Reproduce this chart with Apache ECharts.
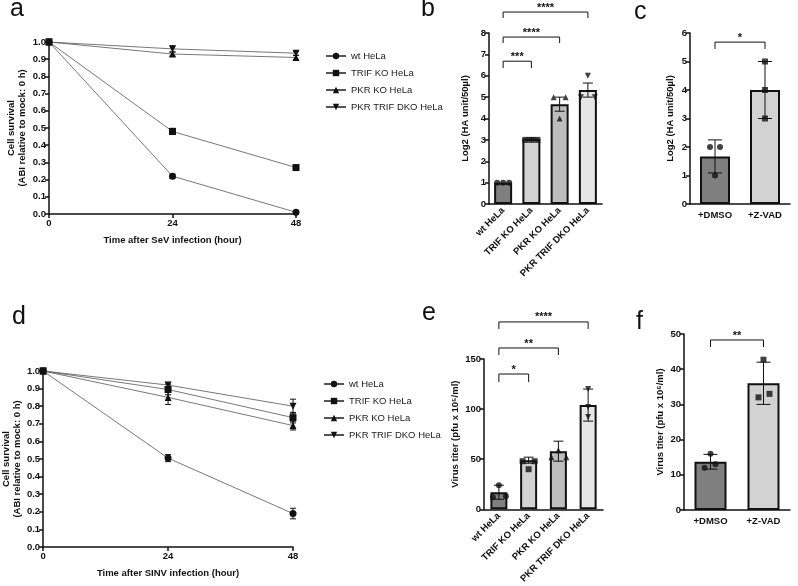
<!DOCTYPE html>
<html>
<head>
<meta charset="UTF-8">
<title>Cell survival and virus titer</title>
<script src="https://cdn.jsdelivr.net/npm/echarts@6/dist/echarts.min.js"></script>
<style>
html, body { margin: 0; padding: 0; background: #fff; }
#container { width: 798px; height: 586px; }
</style>
</head>
<body>
<div id="container"></div>
<script type="text/javascript">
// ---- data ----
var hours = [0, 24, 48];
var strains = ['wt HeLa', 'TRIF KO HeLa', 'PKR KO HeLa', 'PKR TRIF DKO HeLa'];

// a: SeV, cell survival (mean, error)
var sevSurvival = [[1, 0.22, 0.01], [1, 0.48, 0.27], [1, 0.93, 0.91], [1, 0.96, 0.935]];
var sevErr = [[0, 0.012, 0.006], [0, 0.018, 0.012], [0, 0.012, 0.012], [0, 0.018, 0.012]];

// d: SINV, cell survival
var sinvSurvival = [[1, 0.505, 0.19], [1, 0.895, 0.735], [1, 0.85, 0.69], [1, 0.92, 0.80]];
var sinvErr = [[0, 0.02, 0.03], [0, 0.03, 0.03], [0, 0.04, 0.025], [0, 0.015, 0.04]];

// b: Log2 HA titer per strain
var haMean = [1, 3.05, 4.67, 5.33];
var haErr = [0, 0.05, 0.33, 0.33];
var haPoints = [[1, 1, 1], [3, 3, 3], [5, 4, 5], [6, 5, 5]];

// c: Log2 HA titer, DMSO vs Z-VAD
var treatments = ['+DMSO', '+Z-VAD'];
var zvadHaMean = [1.67, 4.0];
var zvadHaErr = [0.58, 1.0];
var zvadHaPoints = [[2, 1, 2], [5, 4, 3]];

// e: virus titer (pfu x 10^5/ml) per strain
var titerMean = [17, 49, 58, 104];
var titerErr = [7, 3, 10, 16];
var titerPoints = [[24, 12, 13], [48, 40, 48], [52, 59, 52], [120, 102, 92]];

// f: virus titer (pfu x 10^6/ml), DMSO vs Z-VAD
var zvadTiterMean = [13.7, 36];
var zvadTiterErr = [2.1, 6];
var zvadTiterPoints = [[12, 16, 13], [32, 42.7, 33]];

// significance: [from, to, bracket level, leg end], label
var sigB = [[0, 1, 6.68, 6.36], [0, 2, 7.81, 7.53], [0, 3, 8.98, 8.70]];
var sigBLabels = ['***', '****', '****'];
var sigC = [[0, 1, 5.68, 5.44]];
var sigCLabels = ['*'];
var sigE = [[0, 1, 135, 127], [0, 2, 161, 154], [0, 3, 187, 180]];
var sigELabels = ['*', '**', '****'];
var sigF = [[0, 1, 48.3, 46.3]];
var sigFLabels = ['**'];

// ---- styling ----
var FONT = 'Liberation Sans';
var symbols = ['circle', 'rect', 'triangle', 'triangle'];
var rotations = [0, 0, 0, 180];
var barColors = ['#7f7f7f', '#d2d2d2', '#bdbdbd', '#e6e6e6'];
var jitter3 = [-6, 0, 6];
var jitterNone = [0, 0, 0];

var myChart = echarts.init(document.getElementById('container'));

function axisStyle() {
    return {
        axisLine: { show: true, lineStyle: { color: '#111', width: 1.5 } },
        axisTick: { show: true, inside: false, length: 4, lineStyle: { color: '#111', width: 1.5 } },
        axisLabel: { color: '#111', fontFamily: FONT, fontWeight: 'bold', fontSize: 9.5, margin: 3 },
        splitLine: { show: false }
    };
}

function yValueAxis(gi, max, interval, name, gap, decimals) {
    var ax = axisStyle();
    ax.type = 'value';
    ax.gridIndex = gi;
    ax.min = 0;
    ax.max = max;
    ax.interval = interval;
    ax.name = name;
    ax.nameLocation = 'middle';
    ax.nameGap = gap;
    ax.nameTextStyle = { color: '#111', fontFamily: FONT, fontWeight: 'bold', fontSize: 9.5, lineHeight: 11 };
    if (decimals) {
        ax.axisLabel.formatter = function (v) { return v.toFixed(decimals); };
    }
    return ax;
}

function xHourAxis(gi, name) {
    var ax = axisStyle();
    ax.type = 'value';
    ax.gridIndex = gi;
    ax.min = 0;
    ax.max = 48;
    ax.interval = 24;
    ax.name = name;
    ax.nameLocation = 'middle';
    ax.nameGap = 21;
    ax.nameTextStyle = { color: '#111', fontFamily: FONT, fontWeight: 'bold', fontSize: 9.5 };
    ax.axisLabel.margin = 4;
    return ax;
}

function xCatAxis(gi, cats, rotate) {
    var ax = axisStyle();
    ax.type = 'category';
    ax.gridIndex = gi;
    ax.data = cats;
    ax.axisTick.show = false;
    ax.axisLabel.interval = 0;
    ax.axisLabel.rotate = rotate;
    ax.axisLabel.margin = rotate ? 5 : 6;
    return ax;
}

function errorRenderer(capHalf) {
    return function (params, api) {
        var lo = api.coord([api.value(0), api.value(1)]);
        var hi = api.coord([api.value(0), api.value(2)]);
        var st = { stroke: '#111', lineWidth: 1 };
        return {
            type: 'group',
            children: [
                { type: 'line', shape: { x1: lo[0], y1: lo[1], x2: hi[0], y2: hi[1] }, style: st },
                { type: 'line', shape: { x1: lo[0] - capHalf, y1: lo[1], x2: lo[0] + capHalf, y2: lo[1] }, style: st },
                { type: 'line', shape: { x1: hi[0] - capHalf, y1: hi[1], x2: hi[0] + capHalf, y2: hi[1] }, style: st }
            ]
        };
    };
}

function bracketRenderer(labels) {
    return function (params, api) {
        var p1 = api.coord([api.value(0), api.value(2)]);
        var p2 = api.coord([api.value(1), api.value(2)]);
        var legY = api.coord([api.value(0), api.value(3)])[1];
        return {
            type: 'group',
            children: [
                { type: 'polyline', shape: { points: [[p1[0], legY], [p1[0], p1[1]], [p2[0], p2[1]], [p2[0], legY]] }, style: { stroke: '#111', lineWidth: 1, fill: null } },
                { type: 'text', style: { text: labels[params.dataIndex], x: (p1[0] + p2[0]) / 2, y: p1[1] + 1, align: 'center', verticalAlign: 'bottom', font: 'bold 11px ' + FONT, fill: '#111' } }
            ]
        };
    };
}

function lineSeries(gi, means, errs, capHalf) {
    var out = [];
    for (var i = 0; i < strains.length; i++) {
        var pts = [];
        var eb = [];
        for (var j = 0; j < hours.length; j++) {
            pts.push([hours[j], means[i][j]]);
            if (errs[i][j] > 0) {
                eb.push([hours[j], means[i][j] - errs[i][j], means[i][j] + errs[i][j]]);
            }
        }
        out.push({
            name: strains[i], type: 'line', xAxisIndex: gi, yAxisIndex: gi,
            data: pts, symbol: symbols[i], symbolRotate: rotations[i], symbolSize: 7,
            itemStyle: { color: '#111' }, lineStyle: { color: '#555', width: 0.8 },
            animation: false, z: 3
        });
        out.push({
            type: 'custom', xAxisIndex: gi, yAxisIndex: gi, data: eb,
            renderItem: errorRenderer(capHalf), encode: { x: 0, y: [1, 2] },
            animation: false, z: 2, silent: true
        });
    }
    return out;
}

function barSeries(gi, cats, means, errs, points, jitters, syms, rots, colors, barWidth, capHalf, sig, sigLabels) {
    var barData = [];
    var eb = [];
    var dots = [];
    for (var i = 0; i < cats.length; i++) {
        barData.push({ value: means[i], itemStyle: { color: colors[i] } });
        if (errs[i] > 0) {
            eb.push([i, means[i] - errs[i], means[i] + errs[i]]);
        }
        for (var k = 0; k < points[i].length; k++) {
            dots.push({
                value: [cats[i], points[i][k]],
                symbol: syms[i], symbolRotate: rots[i],
                symbolOffset: [jitters[i][k], 0]
            });
        }
    }
    return [
        {
            type: 'bar', xAxisIndex: gi, yAxisIndex: gi, data: barData, barWidth: barWidth,
            itemStyle: { borderColor: '#111', borderWidth: 2 }, animation: false, z: 2
        },
        {
            type: 'custom', xAxisIndex: gi, yAxisIndex: gi, data: eb,
            renderItem: errorRenderer(capHalf), encode: { x: 0, y: [1, 2] },
            animation: false, z: 3, silent: true
        },
        {
            type: 'scatter', xAxisIndex: gi, yAxisIndex: gi, data: dots, symbolSize: 6,
            itemStyle: { color: '#111' }, animation: false, z: 4
        },
        {
            type: 'custom', xAxisIndex: gi, yAxisIndex: gi, data: sig, clip: false,
            renderItem: bracketRenderer(sigLabels), encode: { x: [0, 1], y: [2, 3] },
            animation: false, z: 5, silent: true
        }
    ];
}

var panelLetters = [
    { text: 'a', left: 10, top: -3 },
    { text: 'b', left: 421, top: -3 },
    { text: 'c', left: 634, top: 0 },
    { text: 'd', left: 12, top: 305 },
    { text: 'e', left: 422, top: 301 },
    { text: 'f', left: 636, top: 310 }
];

var series = [];
series = series.concat(lineSeries(0, sevSurvival, sevErr, 3));
series = series.concat(barSeries(1, strains, haMean, haErr, haPoints,
    [jitter3, jitter3, [-6, 0, 6], [0, -7, 7]], symbols, rotations, barColors, 18, 5, sigB, sigBLabels));
series = series.concat(barSeries(2, treatments, zvadHaMean, zvadHaErr, zvadHaPoints,
    [[-5, 0, 5], jitterNone], ['circle', 'rect'], [0, 0], [barColors[0], barColors[1]], 30, 7, sigC, sigCLabels));
series = series.concat(lineSeries(3, sinvSurvival, sinvErr, 3));
series = series.concat(barSeries(4, strains, titerMean, titerErr, titerPoints,
    [[0, -6, 7], [-6, 0, 6], [-7, 0, 8], jitterNone], symbols, rotations, barColors, 17, 5, sigE, sigELabels));
series = series.concat(barSeries(5, treatments, zvadTiterMean, zvadTiterErr, zvadTiterPoints,
    [[-6, 0, 5], [-5, 0, 6]], ['circle', 'rect'], [0, 0], [barColors[0], barColors[1]], 32, 7, sigF, sigFLabels));

var legendStyle = {
    data: strains, orient: 'vertical', itemWidth: 20, itemHeight: 8, itemGap: 7,
    selectedMode: false,
    textStyle: { color: '#222', fontFamily: FONT, fontSize: 9.5 }
};

var option = {
    backgroundColor: '#fff',
    animation: false,
    title: panelLetters.map(function (p) {
        return { text: p.text, left: p.left, top: p.top, padding: 0,
            textStyle: { fontFamily: FONT, fontWeight: 'normal', fontSize: 25, color: '#111' } };
    }),
    legend: [
        echarts.util.extend({ left: 320, top: 46 }, legendStyle),
        echarts.util.extend({ left: 318, top: 374 }, legendStyle)
    ],
    grid: [
        { left: 49, top: 42, width: 247, height: 172 },
        { left: 489, top: 33, width: 113, height: 171 },
        { left: 690, top: 33, width: 100, height: 171 },
        { left: 42, top: 371, width: 251, height: 176 },
        { left: 484, top: 359, width: 119, height: 152 },
        { left: 684, top: 334, width: 106, height: 176 }
    ],
    xAxis: [
        xHourAxis(0, 'Time after SeV infection (hour)'),
        xCatAxis(1, strains, 45),
        xCatAxis(2, treatments, 0),
        xHourAxis(3, 'Time after SINV infection (hour)'),
        xCatAxis(4, strains, 45),
        xCatAxis(5, treatments, 0)
    ],
    yAxis: [
        yValueAxis(0, 1, 0.1, 'Cell survival\n(ABI relative to mock: 0 h)', 21, 1),
        yValueAxis(1, 8, 1, 'Log2 (HA unit/50µl)', 18, 0),
        yValueAxis(2, 6, 1, 'Log2 (HA unit/50µl)', 14, 0),
        yValueAxis(3, 1, 0.1, 'Cell survival\n(ABI relative to mock: 0 h)', 19, 1),
        yValueAxis(4, 150, 50, 'Virus titer (pfu x 10⁵/ml)', 22, 0),
        yValueAxis(5, 50, 10, 'Virus titer (pfu x 10⁶/ml)', 18, 0)
    ],
    series: series
};
myChart.setOption(option);
</script>
</body>
</html>
